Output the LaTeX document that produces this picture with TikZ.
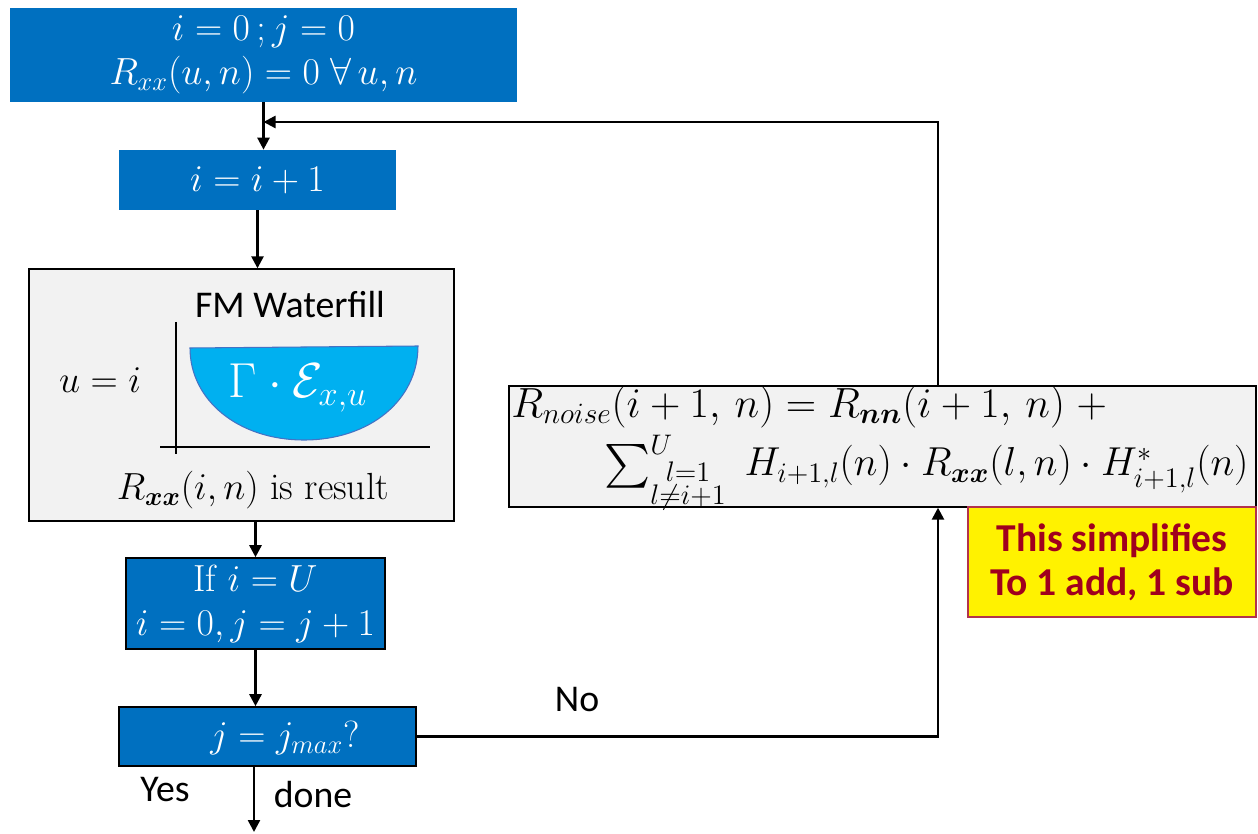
\documentclass[tikz,border=0pt]{standalone}
\usepackage{fix-cm}
\usepackage{amsmath}
\usepackage{fontspec}
\newfontfamily\calib{Carlito}
\usetikzlibrary{arrows.meta}
\definecolor{fblue}{HTML}{0070C0}
\definecolor{fgray}{HTML}{F2F2F2}
\definecolor{fcyan}{HTML}{00B0F0}
\definecolor{frim}{HTML}{4472C4}
\definecolor{fred}{HTML}{A0001E}

\begin{document}
\begin{tikzpicture}[x=0.02cm,y=-0.02cm, every node/.style={font=\fontsize{21.5}{25}\selectfont,align=center,inner sep=0pt}, blubox/.style={fill=fblue,text=white}, bluedge/.style={blubox,draw=black,line width=0.9pt}, graybox/.style={fill=fgray,draw=black,line width=0.8pt}, sans/.style={font=\fontsize{21.5}{25}\selectfont\calib}, arr/.style={-{Triangle[length=2.4mm,width=2.4mm]},line width=1.4pt}, ln/.style={line width=0.7pt}]
\useasboundingbox (0,0) rectangle (1258,834);
\node[blubox,minimum width=10.14cm,minimum height=1.88cm] (init) at (263.5,55) {$i=0\,;j=0$\\$R_{xx}(u,n)=0\;\forall\,u,n$};
\node[blubox,minimum width=5.54cm,minimum height=1.2cm] (incr) at (257.5,180) {$i=i+1$};
\node[graybox,minimum width=8.5cm,minimum height=5.04cm] (wf) at (241.5,395) {};
\node[bluedge,minimum width=5.18cm,minimum height=1.82cm] (ifu) at (255.5,603.5) {If $i=U$\\$i=0,j=j+1$};
\node[bluedge,minimum width=5.94cm,minimum height=1.18cm] (test) at (267.5,736.5) {};
\node[text=white] (testlbl) at (285,738) {$j=j_{max}$?};
\node[graybox,minimum width=14.94cm,minimum height=2.42cm] (noise) at (882.5,446.5) {};
\node[fill=yellow,draw=fred!80,line width=0.9pt,minimum width=5.76cm,minimum height=2.2cm,text=fred,font=\fontsize{22.5}{25}\selectfont\calib\bfseries] (simp) at (1112,562) {This simplifies\\To 1 add, 1 sub};
% waterfill sketch
\node[sans] (wftitle) at (290,305) {FM Waterfill};
\node (ueq) at (100,380) {$u=i$};
\draw[ln] (176,322) -- (176,454);
\draw[ln] (160,447) -- (430,447);
\draw[fill=fcyan,draw=frim,line width=0.6pt] (190,348) -- (418,346) .. controls (418,400) and (370,440) .. (304,440) .. controls (238,440) and (190,400) .. (190,348) -- cycle;
\node[text=white,font=\fontsize{28}{30}\selectfont] (gam) at (298,388) {$\Gamma\cdot\mathcal{E}_{x,u}$};
\node (wfres) at (253,490) {$R_{\boldsymbol{xx}}(i,n)$ is result};
% noise formula
\node[anchor=west,font=\fontsize{24}{26}\selectfont] (f1) at (511,407) {$R_{noise}(i+1,\,n)=R_{\boldsymbol{nn}}(i+1,\,n)\;+$};
\node[anchor=west,font=\fontsize{23}{26}\selectfont] (f2) at (604,473) {$\sum^{U}_{\substack{l=1\\l\neq i+1}}\;H_{i+1,l}(n)\cdot R_{\boldsymbol{xx}}(l,n)\cdot H^{*}_{i+1,l}(n)$};
% labels
\node[sans] (yes) at (165,790) {Yes};
\node[sans] (done) at (313,795) {done};
\node[sans] (no) at (577,700) {No};
\coordinate (bend) at (938,122);
\coordinate (fin) at (254,832);
\draw[arr] (init.south) -- (init.south |- incr.north); \draw[arr] (incr.south) -- (incr.south |- wf.north);
\draw[arr] (ifu.north |- wf.south) -- (ifu.north); \draw[arr] (ifu.south) -- (ifu.south |- test.north);
\draw[arr] (test.south -| fin) -- (fin);
\draw[arr] (test.east) -- (bend |- test.east) -- (bend |- noise.south);
\draw[arr] (bend |- noise.north) -- (bend) -- (bend -| init.south);
\end{tikzpicture}
\end{document}
